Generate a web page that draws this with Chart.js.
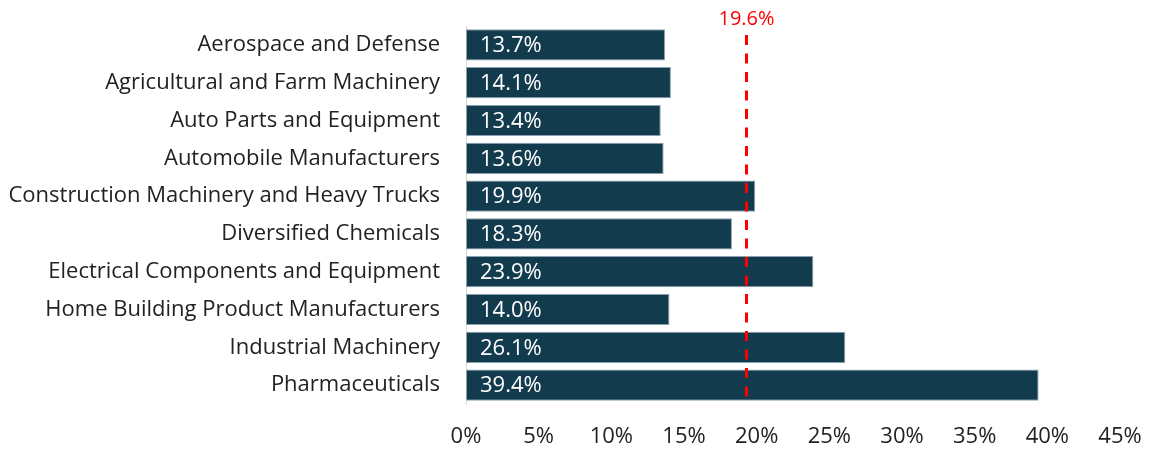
<!DOCTYPE html>
<html>
<head>
<meta charset="utf-8">
<script src="https://cdn.jsdelivr.net/npm/chart.js@4"></script>
<style>
html,body{margin:0;padding:0;background:#fff;}
#wrap{position:relative;width:1151px;height:451px;}
</style>
</head>
<body>
<div id="wrap"><canvas id="c" width="1151" height="451"></canvas></div>
<script>
const categories = [
  "Aerospace and Defense",
  "Agricultural and Farm Machinery",
  "Auto Parts and Equipment",
  "Automobile Manufacturers",
  "Construction Machinery and Heavy Trucks",
  "Diversified Chemicals",
  "Electrical Components and Equipment",
  "Home Building Product Manufacturers",
  "Industrial Machinery",
  "Pharmaceuticals"
];
const values = [13.7, 14.1, 13.4, 13.6, 19.9, 18.3, 23.9, 14.0, 26.1, 39.4];
const averageValue = 19.6;
const xTicks = [0, 5, 10, 15, 20, 25, 30, 35, 40, 45];

const FONT = "'Open Sans', 'Noto Sans', sans-serif";

const overlay = {
  id: 'overlay',
  afterDatasetsDraw(chart) {
    const ctx = chart.ctx;
    const xs = chart.scales.x;
    const area = chart.chartArea;
    ctx.save();
    ctx.fillStyle = '#ffffff';
    ctx.font = '22px ' + FONT;
    ctx.textAlign = 'left';
    ctx.textBaseline = 'middle';
    chart.getDatasetMeta(0).data.forEach((bar, i) => {
      ctx.fillText(values[i].toFixed(1) + '%', xs.getPixelForValue(0) + 14, bar.y + 1);
    });
    ctx.restore();
    const x = Math.round(xs.getPixelForValue(averageValue)) - 4.5;
    ctx.save();
    ctx.strokeStyle = '#ff0000';
    ctx.lineWidth = 3;
    ctx.setLineDash([10, 8.5]);
    ctx.beginPath();
    ctx.moveTo(x, area.top + 9);
    ctx.lineTo(x, area.bottom - 4);
    ctx.stroke();
    ctx.setLineDash([]);
    ctx.fillStyle = '#ff0000';
    ctx.font = '20px ' + FONT;
    ctx.textAlign = 'center';
    ctx.textBaseline = 'middle';
    ctx.fillText(averageValue.toFixed(1) + '%', x, 19);
    ctx.restore();
  }
};

new Chart(document.getElementById('c'), {
  type: 'bar',
  data: {
    labels: categories,
    datasets: [{
      data: values,
      backgroundColor: '#133b4e',
      borderColor: '#8aa1ad',
      borderWidth: 1,
      borderSkipped: false,
      barPercentage: 0.86,
      categoryPercentage: 0.96
    }]
  },
  options: {
    indexAxis: 'y',
    responsive: false,
    animation: false,
    layout: { padding: { top: 26, right: 31, bottom: 0, left: 0 } },
    plugins: {
      legend: { display: false },
      tooltip: { enabled: false }
    },
    scales: {
      x: {
        min: 0, max: 45,
        afterBuildTicks(scale) { scale.ticks = xTicks.map(v => ({ value: v })); },
        afterFit(scale) { scale.height = 47; scale.paddingLeft = 0; scale.paddingRight = 0; },
        grid: { display: false, drawTicks: false },
        border: { display: false },
        ticks: {
          padding: 20,
          color: '#222222',
          font: { family: FONT, size: 22 },
          callback: v => v + '%'
        }
      },
      y: {
        afterFit(scale) { scale.width = 466; scale.paddingTop = 0; scale.paddingBottom = 0; },
        grid: { display: false, drawTicks: false },
        border: { display: true, color: '#d9d9d9', width: 1 },
        ticks: {
          padding: 26,
          color: '#222222',
          font: { family: FONT, size: 22 }
        }
      }
    }
  },
  plugins: [overlay]
});
</script>
</body>
</html>
